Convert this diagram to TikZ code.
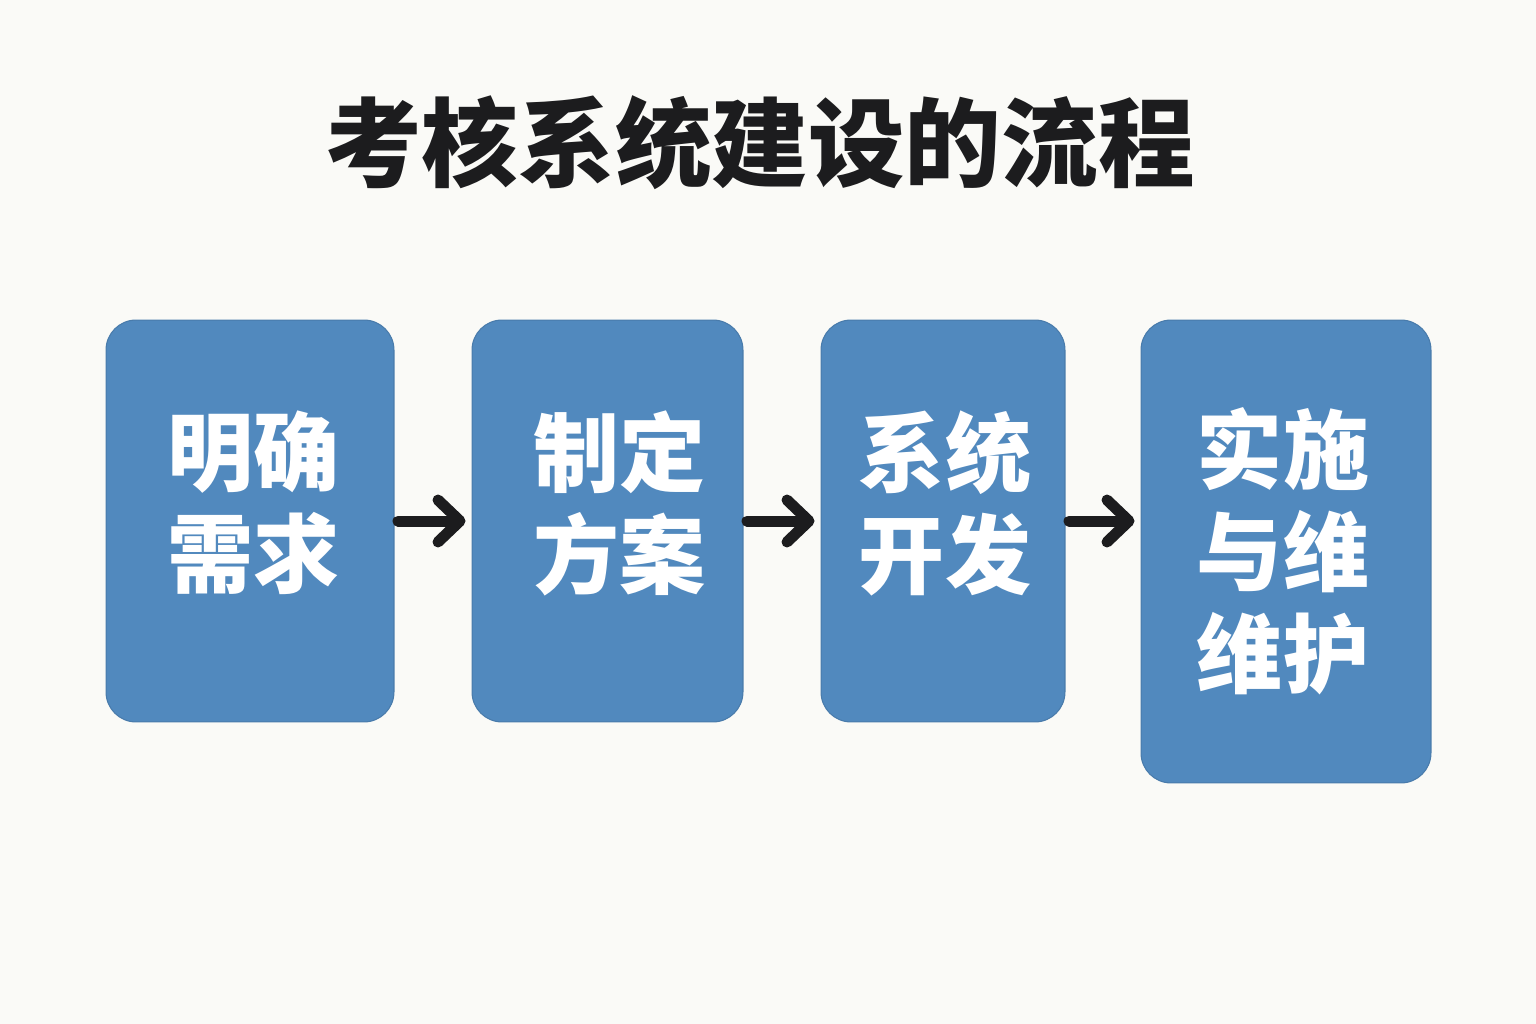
\documentclass[tikz,border=0pt]{standalone}
\usepackage{fontspec}
\newfontfamily\cjk{Noto Sans CJK SC}
\usetikzlibrary{arrows.meta}
\definecolor{bgpaper}{RGB}{250,250,247}
\definecolor{stepblue}{RGB}{81,137,190}
\definecolor{inkblack}{RGB}{28,28,30}
\tikzset{
  stepbox/.style={draw=stepblue!90!black,line width=0.6pt,fill=stepblue,rounded corners=0.6cm},
  steptext/.style={text=white,font=\cjk\bfseries\fontsize{49}{58}\selectfont,align=center},
  flow/.style={draw=inkblack,line width=0.22cm,line cap=round,
    -{Straight Barb[length=0.44cm,width=0.84cm,line cap=round,line join=round]},shorten <=2pt,shorten >=0.12cm}
}
\begin{document}
\begin{tikzpicture}[x=0.02cm,y=-0.02cm]
        \fill[bgpaper](0,0)rectangle(1536,1024);
        \useasboundingbox(0,0)rectangle(1536,1024);
        \node[text=inkblack,font=\cjk\bfseries\fontsize{55}{60}\selectfont](title)at(760,143){考核系统建设的流程};

        % steps
        \node[stepbox,minimum width=5.76cm,minimum height=8.04cm,
          label={[steptext,xshift=0.08cm,yshift=0.36cm]center:明确\\需求}](need)at(250,521){};
        \node[stepbox,minimum width=5.42cm,minimum height=8.04cm,
          label={[steptext,xshift=0.24cm,yshift=0.36cm]center:制定\\方案}](plan)at(607.5,521){};
        \node[stepbox,minimum width=4.88cm,minimum height=8.04cm,
          label={[steptext,xshift=0.04cm,yshift=0.36cm]center:系统\\开发}](dev)at(943,521){};
        \node[stepbox,minimum width=5.80cm,minimum height=9.26cm,
          label={[steptext,xshift=-0.06cm]center:实施\\与维\\维护}](run)at(1286,551.5){};

        \draw[flow](need.east)--(need.east-|plan.west);
        \draw[flow](plan.east)--(plan.east-|dev.west);
        \draw[flow](dev.east)--(dev.east-|run.west);
    \end{tikzpicture}
\end{document}
